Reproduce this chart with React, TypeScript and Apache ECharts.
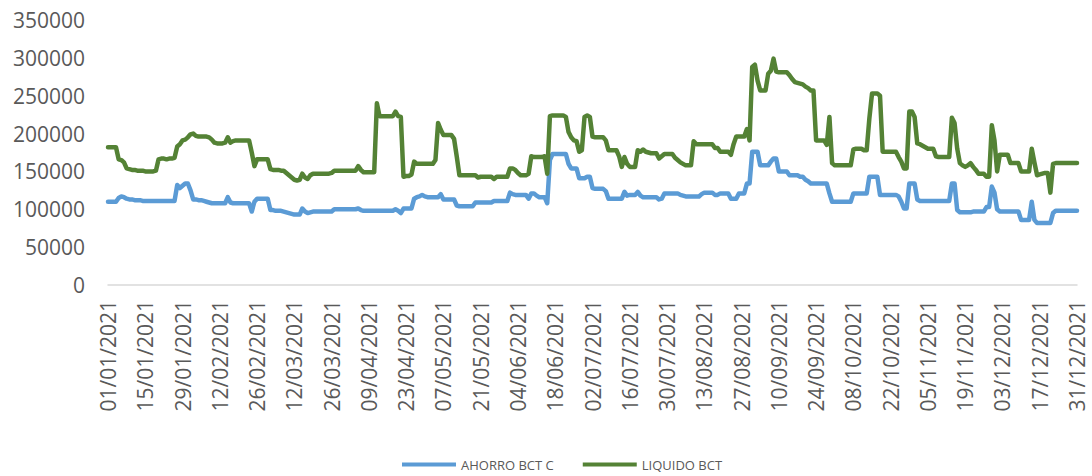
import React, { useEffect, useRef } from "react";
import * as echarts from "echarts";

// Daily dates of 2021 (category axis)
const startDate = Date.UTC(2021, 0, 1);
const dates: string[] = [];
for (let i = 0; i < 365; i++) {
  const d = new Date(startDate + i * 86400000);
  const dd = String(d.getUTCDate()).padStart(2, "0");
  const mm = String(d.getUTCMonth() + 1).padStart(2, "0");
  dates.push(`${dd}/${mm}/${d.getUTCFullYear()}`);
}

const seriesNames = ["AHORRO BCT C", "LIQUIDO BCT"];

// AHORRO BCT C (blue), one value per day, 14 per row
const ahorro: number[] = [
  110000, 110000, 110000, 110000, 115000, 117000, 116000, 114000, 113000, 113000, 112000, 112000, 112000, 111000,
  111000, 111000, 111000, 111000, 111000, 111000, 111000, 111000, 111000, 111000, 111000, 111000, 132000, 128000,
  131000, 134000, 134000, 125000, 113000, 113000, 112000, 112000, 111000, 110000, 109000, 108000, 108000, 108000,
  108000, 108000, 108000, 116000, 109000, 108000, 108000, 108000, 108000, 108000, 108000, 108000, 97000, 110000,
  114000, 114000, 114000, 114000, 114000, 99000, 99000, 98000, 98000, 98000, 97000, 96000, 95000, 94000,
  93000, 93000, 93000, 101000, 97000, 95000, 96000, 97000, 97000, 97000, 97000, 97000, 97000, 97000,
  97000, 100000, 100000, 100000, 100000, 100000, 100000, 100000, 100000, 100000, 101000, 99000, 98000, 98000,
  98000, 98000, 98000, 98000, 98000, 98000, 98000, 98000, 98000, 98000, 100000, 98000, 95000, 101000,
  101000, 101000, 101000, 114000, 116000, 117000, 119000, 117000, 116000, 116000, 116000, 116000, 116000, 120000,
  113000, 113000, 113000, 113000, 113000, 105000, 104000, 104000, 104000, 104000, 104000, 104000, 109000, 109000,
  109000, 109000, 109000, 109000, 109000, 111000, 111000, 111000, 111000, 111000, 111000, 122000, 120000, 119000,
  119000, 119000, 119000, 119000, 114000, 121000, 121000, 118000, 116000, 116000, 116000, 108000, 165000, 173000,
  173000, 173000, 173000, 173000, 173000, 160000, 154000, 154000, 154000, 141000, 141000, 141000, 143000, 143000,
  128000, 127000, 127000, 127000, 127000, 124000, 114000, 114000, 114000, 114000, 114000, 114000, 123000, 118000,
  119000, 119000, 119000, 123000, 118000, 116000, 116000, 116000, 116000, 116000, 116000, 113000, 114000, 121000,
  121000, 121000, 121000, 121000, 121000, 119000, 118000, 117000, 117000, 117000, 117000, 117000, 117000, 120000,
  122000, 122000, 122000, 122000, 119000, 119000, 121000, 121000, 121000, 121000, 114000, 114000, 114000, 121000,
  121000, 121000, 134000, 134000, 176000, 176000, 176000, 158000, 158000, 158000, 158000, 163000, 167000, 167000,
  150000, 150000, 150000, 150000, 145000, 145000, 145000, 145000, 143000, 143000, 139000, 137000, 134000, 134000,
  134000, 134000, 134000, 134000, 134000, 121000, 110000, 110000, 110000, 110000, 110000, 110000, 110000, 110000,
  121000, 121000, 121000, 121000, 121000, 121000, 143000, 143000, 143000, 143000, 119000, 119000, 119000, 119000,
  119000, 119000, 119000, 117000, 110000, 101000, 101000, 134000, 134000, 134000, 113000, 111000, 111000, 111000,
  111000, 111000, 111000, 111000, 111000, 111000, 111000, 111000, 111000, 134000, 134000, 99000, 96000, 96000,
  96000, 96000, 96000, 97000, 97000, 97000, 97000, 97000, 103000, 103000, 130000, 122000, 100000, 97000,
  97000, 97000, 97000, 97000, 97000, 97000, 97000, 86000, 86000, 86000, 86000, 110000, 86000, 82000,
  82000, 82000, 82000, 82000, 82000, 95000, 98000, 98000, 98000, 98000, 98000, 98000, 98000, 98000,
  98000,
];

// LIQUIDO BCT (green), one value per day, 14 per row
const liquido: number[] = [
  182000, 182000, 182000, 182000, 166000, 165000, 162000, 154000, 153000, 152000, 152000, 151000, 151000, 151000,
  150000, 150000, 150000, 150000, 151000, 166000, 167000, 167000, 166000, 167000, 167000, 168000, 183000, 186000,
  191000, 192000, 195000, 199000, 200000, 197000, 196000, 196000, 196000, 196000, 195000, 192000, 188000, 187000,
  187000, 187000, 188000, 195000, 188000, 190000, 191000, 191000, 191000, 191000, 191000, 191000, 175000, 157000,
  166000, 166000, 166000, 166000, 166000, 153000, 152000, 152000, 152000, 151000, 151000, 148000, 145000, 142000,
  139000, 138000, 139000, 147000, 142000, 140000, 145000, 147000, 147000, 147000, 147000, 147000, 147000, 147000,
  148000, 151000, 151000, 151000, 151000, 151000, 151000, 151000, 151000, 151000, 157000, 152000, 149000, 149000,
  149000, 149000, 149000, 240000, 223000, 223000, 223000, 223000, 223000, 223000, 229000, 223000, 222000, 143000,
  144000, 144000, 146000, 163000, 160000, 160000, 160000, 160000, 160000, 160000, 160000, 165000, 214000, 205000,
  198000, 198000, 198000, 198000, 193000, 170000, 145000, 145000, 145000, 145000, 145000, 145000, 145000, 142000,
  143000, 143000, 143000, 143000, 143000, 140000, 143000, 143000, 143000, 143000, 143000, 154000, 154000, 152000,
  148000, 145000, 145000, 145000, 147000, 170000, 169000, 169000, 169000, 169000, 170000, 147000, 223000, 224000,
  224000, 224000, 224000, 224000, 222000, 202000, 195000, 191000, 190000, 176000, 178000, 222000, 224000, 222000,
  196000, 195000, 195000, 195000, 195000, 191000, 178000, 178000, 178000, 178000, 170000, 156000, 169000, 160000,
  156000, 156000, 156000, 178000, 176000, 179000, 176000, 175000, 174000, 174000, 174000, 167000, 170000, 173000,
  173000, 173000, 173000, 168000, 165000, 162000, 160000, 158000, 158000, 158000, 190000, 186000, 186000, 186000,
  186000, 186000, 186000, 186000, 181000, 181000, 176000, 176000, 176000, 176000, 172000, 186000, 196000, 196000,
  196000, 196000, 206000, 191000, 288000, 291000, 270000, 257000, 257000, 257000, 279000, 283000, 299000, 282000,
  281000, 281000, 281000, 281000, 277000, 272000, 268000, 267000, 266000, 265000, 262000, 260000, 257000, 257000,
  191000, 191000, 191000, 191000, 185000, 222000, 161000, 158000, 158000, 158000, 158000, 158000, 158000, 158000,
  179000, 180000, 180000, 180000, 178000, 178000, 220000, 253000, 253000, 253000, 250000, 176000, 176000, 176000,
  176000, 176000, 176000, 169000, 163000, 154000, 154000, 229000, 229000, 222000, 187000, 186000, 184000, 182000,
  180000, 180000, 180000, 170000, 169000, 169000, 169000, 169000, 169000, 221000, 214000, 180000, 161000, 158000,
  156000, 158000, 161000, 156000, 152000, 147000, 147000, 147000, 143000, 143000, 211000, 191000, 150000, 172000,
  172000, 172000, 172000, 161000, 161000, 161000, 161000, 150000, 150000, 150000, 150000, 180000, 162000, 145000,
  146000, 147000, 148000, 148000, 122000, 160000, 161000, 161000, 161000, 161000, 161000, 161000, 161000, 161000,
  161000,
];

const yTicks = { min: 0, max: 350000, interval: 50000 };
const colors = ["#5B9BD5", "#548235"];

export default function App() {
  const ref = useRef<HTMLDivElement>(null);
  useEffect(() => {
    document.body.style.margin = "0";
    if (!ref.current) return;
    const chart = echarts.init(ref.current, null, { renderer: "svg" });
    const font = "'Open Sans', 'Liberation Sans', sans-serif";
    chart.setOption({
      animation: false,
      backgroundColor: "#ffffff",
      textStyle: { fontFamily: font },
      grid: { left: 108, right: 15, top: 20, bottom: 191, containLabel: false },
      legend: {
        data: seriesNames,
        left: 397,
        top: 453,
        icon: "rect",
        itemWidth: 54,
        itemHeight: 4,
        itemGap: 29,
        textStyle: { fontSize: 13, color: "#595959", fontFamily: font },
      },
      xAxis: {
        type: "category",
        data: dates,
        boundaryGap: false,
        axisLine: { lineStyle: { color: "#d9d9d9", width: 1.5 } },
        axisTick: { show: false },
        splitLine: { show: false },
        axisLabel: {
          interval: 13,
          rotate: 90,
          margin: 15,
          fontSize: 21,
          lineHeight: 15,
          color: "#595959",
          fontFamily: font,
        },
      },
      yAxis: {
        type: "value",
        min: yTicks.min,
        max: yTicks.max,
        interval: yTicks.interval,
        axisLine: { show: false },
        axisTick: { show: false },
        splitLine: { show: false },
        axisLabel: {
          margin: 23,
          fontSize: 21,
          color: "#595959",
          fontFamily: font,
          formatter: (v: number) => String(v),
        },
      },
      series: [
        {
          name: seriesNames[0],
          type: "line",
          data: ahorro,
          showSymbol: false,
          symbol: "none",
          color: colors[0],
          lineStyle: { width: 4.5, color: colors[0], join: "round", cap: "round" },
        },
        {
          name: seriesNames[1],
          type: "line",
          data: liquido,
          showSymbol: false,
          symbol: "none",
          color: colors[1],
          lineStyle: { width: 4.5, color: colors[1], join: "round", cap: "round" },
        },
      ],
    });
    return () => chart.dispose();
  }, []);
  return <div ref={ref} style={{ width: 1092, height: 476 }} />;
}
